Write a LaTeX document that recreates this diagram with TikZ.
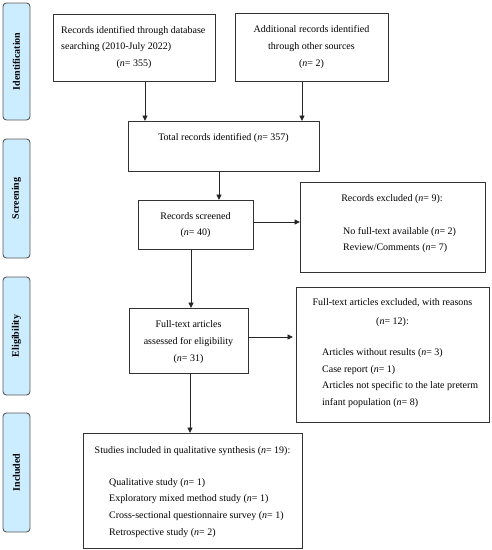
\documentclass[tikz,border=0pt]{standalone}
\usepackage{fontspec}
\setmainfont{Liberation Serif}
\usetikzlibrary{arrows.meta}
\begin{document}
\begin{tikzpicture}[x=1pt,y=-1pt,
  box/.style={draw=black!80,line width=0.9pt,inner sep=0pt,outer sep=0pt,rectangle},
  side/.style={draw=black!65,fill=sideblue,line width=0.9pt,rounded corners=3.5pt,inner sep=0pt,outer sep=0pt,minimum width=27pt},
  sidetxt/.style={font=\fontsize{10}{12}\selectfont\bfseries,rotate=90,inner sep=0pt},
  txt/.style={font=\fontsize{10}{12}\selectfont,inner sep=0pt},
  tc/.style={txt,anchor=mid},
  tl/.style={txt,anchor=mid west},
  arr/.style={draw=black!85,line width=0.9pt,-{Triangle[length=5.5pt,width=5pt]}}
]
\definecolor{sideblue}{HTML}{CCEDFF}
\useasboundingbox (0,0) rectangle (491,550);
% side labels
\node[side,minimum height=117pt] (sid) at (16.5,61.5) {};
\node[sidetxt] (sidt) at (sid.center) {Identification};
\node[side,minimum height=119pt] (sscr) at (16.5,198.5) {};
\node[sidetxt] (sscrt) at (sscr.center) {Screening};
\node[side,minimum height=118pt] (sel) at (16.5,336) {};
\node[sidetxt] (selt) at (sel.center) {Eligibility};
\node[side,minimum height=119pt] (sin) at (16.5,472.5) {};
\node[sidetxt] (sint) at (sin.center) {Included};
% boxes
\node[box,minimum width=162pt,minimum height=67pt] (b1) at (134,47.5) {};
\node[box,minimum width=153pt,minimum height=68pt] (b2) at (311.5,47) {};
\node[box,minimum width=191pt,minimum height=50pt] (tot) at (223.5,146) {};
\node[box,minimum width=115pt,minimum height=49pt] (scr) at (195.5,224.5) {};
\node[box,minimum width=185pt,minimum height=90pt] (ex1) at (392.5,227) {};
\node[box,minimum width=119pt,minimum height=65pt] (ft) at (188.5,340.5) {};
\node[box,minimum width=193pt,minimum height=135pt] (ex2) at (392.5,354.5) {};
\node[box,minimum width=219pt,minimum height=115pt] (stu) at (192.5,490.5) {};
% texts
\node[tl] (b1a) at (61,31) {Records identified through database};
\node[tl] (b1b) at (61,47) {searching (2010-July 2022)};
\node[tc] (b1c) at (134,64) {(\textit{n}= 355)};
\node[tc] (b2a) at (311.5,30) {Additional records identified};
\node[tc] (b2b) at (311.5,47) {through other sources};
\node[tc] (b2c) at (311.5,64) {(\textit{n}= 2)};
\node[tc] (tota) at (223.5,138) {Total records identified (\textit{n}= 357)};
\node[tc] (scra) at (195.5,217) {Records screened};
\node[tc] (scrb) at (195.5,233) {(\textit{n}= 40)};
\node[tc] (ex1a) at (392,199) {Records excluded (\textit{n}= 9):};
\node[tl] (ex1b) at (343,232) {No full-text available (\textit{n}= 2)};
\node[tl] (ex1c) at (343,248) {Review/Comments (\textit{n}= 7)};
\node[tc] (fta) at (188.5,325) {Full-text articles};
\node[tc] (ftb) at (188.5,342) {assessed for eligibility};
\node[tc] (ftc) at (188.5,359) {(\textit{n}= 31)};
\node[tc] (ex2a) at (392.5,303) {Full-text articles excluded, with reasons};
\node[tc] (ex2b) at (392.5,322) {(\textit{n}= 12):};
\node[tl] (ex2c) at (322,353) {Articles without results (\textit{n}= 3)};
\node[tl] (ex2d) at (322,370) {Case report (\textit{n}= 1)};
\node[tl] (ex2e) at (322,386) {Articles not specific to the late preterm};
\node[tl] (ex2f) at (322,403) {infant population (\textit{n}= 8)};
\node[tc] (stua) at (192.5,451) {Studies included in qualitative synthesis (\textit{n}= 19):};
\node[tl] (stub) at (109,483) {Qualitative study (\textit{n}= 1)};
\node[tl] (stuc) at (109,499) {Exploratory mixed method study (\textit{n}= 1)};
\node[tl] (stud) at (109,516) {Cross-sectional questionnaire survey (\textit{n}= 1)};
\node[tl] (stue) at (109,533) {Retrospective study (\textit{n}= 2)};
% connectors
\draw[arr] ([xshift=11pt]b1.south) -- ([xshift=11pt]b1.south |- tot.north);
\draw[arr] ([xshift=-9.5pt]b2.south) -- ([xshift=-9.5pt]b2.south |- tot.north);
\draw[arr] ([xshift=-4.5pt]tot.south) -- ([xshift=-4.5pt]tot.south |- scr.north);
\draw[arr] ([yshift=2.5pt]scr.east) -- ([yshift=2.5pt]scr.east -| ex1.west);
\draw[arr] ([xshift=-4.5pt]scr.south) -- ([xshift=-4.5pt]scr.south |- ft.north);
\draw[arr,shorten >=3pt] ([yshift=3.5pt]ft.east) -- ([yshift=3.5pt]ft.east -| ex2.west);
\draw[arr] ([xshift=1.5pt]ft.south) -- ([xshift=1.5pt]ft.south |- stu.north);
\end{tikzpicture}
\end{document}
